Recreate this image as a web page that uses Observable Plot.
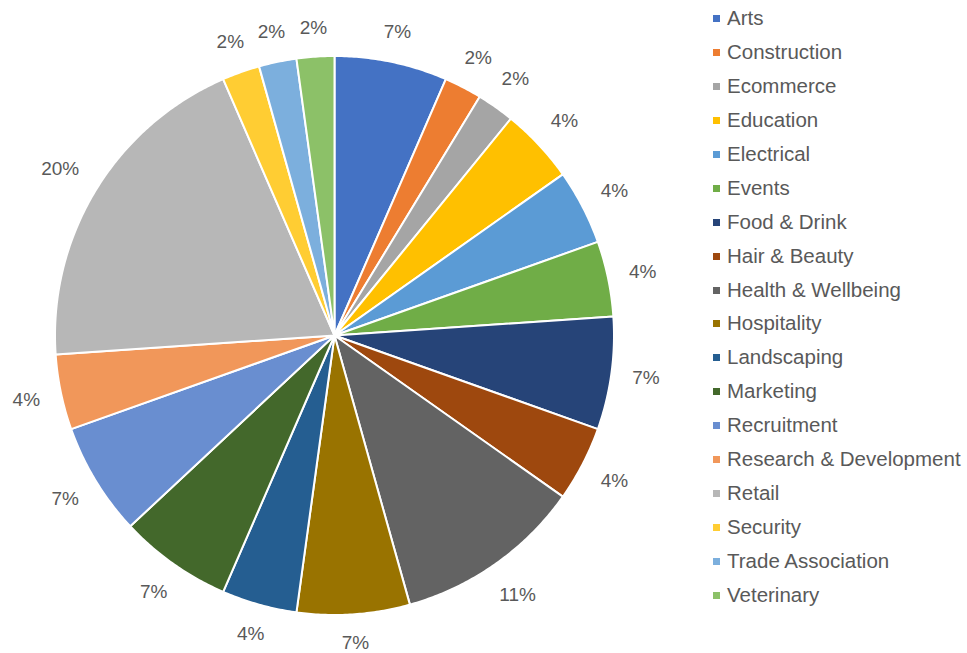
<!DOCTYPE html>
<html><head><meta charset="utf-8">
<script src="https://cdn.jsdelivr.net/npm/d3@7"></script>
<script src="https://cdn.jsdelivr.net/npm/@observablehq/plot@0.6"></script>
<style>
body{margin:0;background:#fff;font-family:"Liberation Sans",Arial,sans-serif;}
#wrap{position:relative;width:967px;height:653px;overflow:hidden;}
#chart{position:absolute;left:0;top:0;}
#legend{position:absolute;left:0;top:0;}
.item{position:absolute;white-space:nowrap;font-size:20.5px;color:#595959;line-height:20px;height:20px;}
.sw{position:absolute;width:7px;height:7px;top:7px;}
.lt{position:absolute;left:14px;top:0;}
</style></head><body><div id="wrap"><div id="chart"></div><div id="legend"></div></div>
<script>
const categories = ["Arts","Construction","Ecommerce","Education","Electrical","Events","Food & Drink","Hair & Beauty","Health & Wellbeing","Hospitality","Landscaping","Marketing","Recruitment","Research & Development","Retail","Security","Trade Association","Veterinary"];
const counts = [3,1,1,2,2,2,3,2,5,3,2,3,3,2,9,1,1,1];
const colors = ["#4472C4","#ED7D31","#A5A5A5","#FFC000","#5B9BD5","#70AD47","#264478","#9E480E","#636363","#997300","#255E91","#43682B","#698ED0","#F1975A","#B7B7B7","#FFCD33","#7CAFDD","#8CC168"];

const total = d3.sum(counts);
const R = 279.5; // pixel radius, used to convert label offsets to data units
const wedges = [];
const labels = [];
let cum = 0;
categories.forEach((cat, i) => {
  const a0 = cum / total * 2 * Math.PI;
  cum += counts[i];
  const a1 = cum / total * 2 * Math.PI;
  const n = Math.max(2, Math.ceil((a1 - a0) / (Math.PI / 360)));
  wedges.push({cat, x: 0, y: 0});
  for (let k = 0; k <= n; k++) {
    const a = a0 + (a1 - a0) * k / n;
    wedges.push({cat, x: Math.sin(a), y: Math.cos(a)});
  }
  wedges.push({cat, x: 0, y: 0});
  const am = (a0 + a1) / 2;
  const text = Math.round(counts[i] / total * 100) + "%";
  const halfW = text.length * 6.8;
  const rp = 300 + halfW * Math.abs(Math.sin(am)) + 7 * Math.abs(Math.cos(am));
  labels.push({text, x: Math.sin(am) * rp / R, y: Math.cos(am) * rp / R});
});

const chart = Plot.plot({
  width: 967, height: 653, margin: 0,
  style: {fontFamily: "Liberation Sans, Arial, sans-serif", background: "white"},
  x: {domain: [-1, 1], range: [54.5, 613.5], axis: null},
  y: {domain: [-1, 1], range: [614.5, 55.5], axis: null},
  color: {domain: categories, range: colors},
  marks: [
    Plot.line(wedges, {x: "x", y: "y", z: "cat", fill: "cat", stroke: "white", strokeWidth: 2, strokeLinejoin: "round", curve: "linear"}),
    Plot.text(labels, {x: "x", y: "y", text: "text", fontSize: 19, fill: "#595959", textAnchor: "middle"})
  ]
});
document.getElementById("chart").appendChild(chart);

const leg = document.getElementById("legend");
categories.forEach((cat, i) => {
  const it = document.createElement("div");
  it.className = "item";
  it.style.left = "713px";
  it.style.top = (18 + i * 33.94 - 10) + "px";
  const sw = document.createElement("span");
  sw.className = "sw";
  sw.style.background = colors[i];
  const t = document.createElement("span");
  t.className = "lt";
  t.textContent = cat;
  it.appendChild(sw); it.appendChild(t);
  leg.appendChild(it);
});
</script></body></html>
